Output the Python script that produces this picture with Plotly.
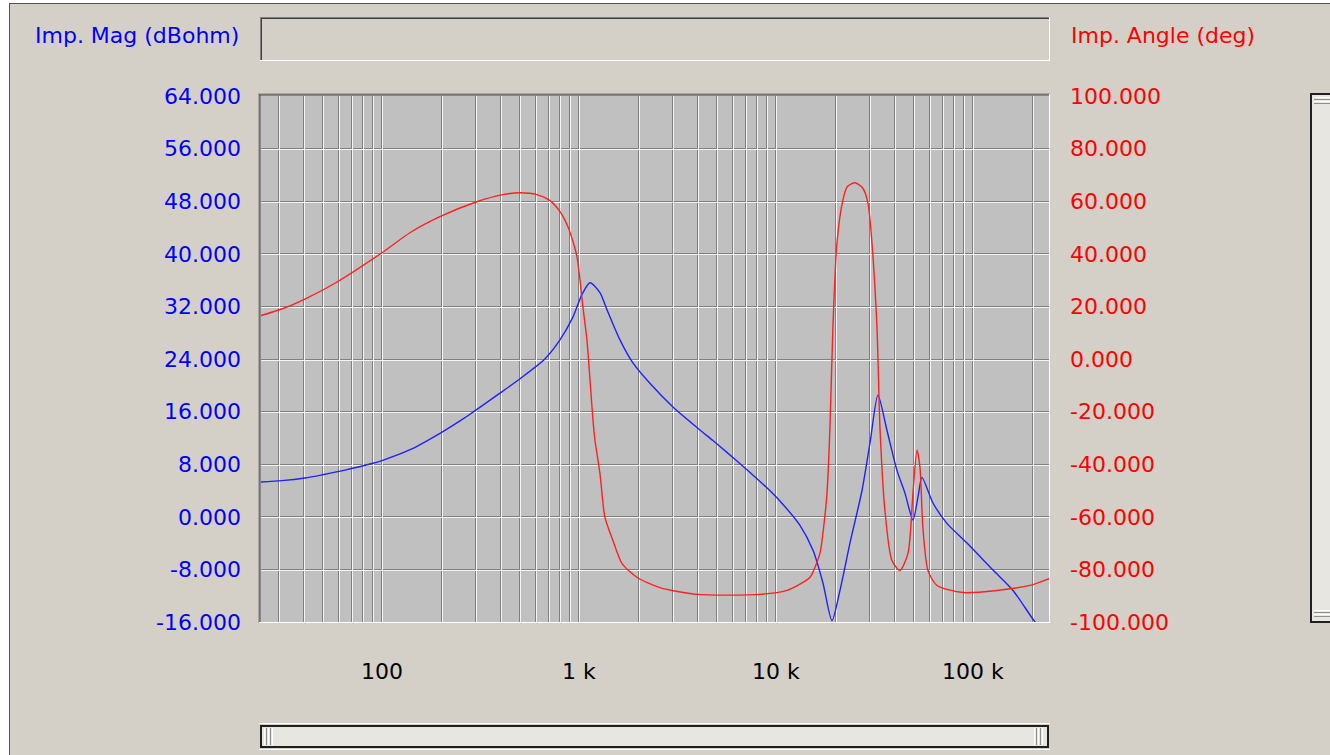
import plotly.graph_objects as go

# ---------------- data ----------------
freq_mag = [24.3, 31, 40.6, 50, 64.9, 89, 100, 139, 197, 249, 280, 397, 502, 671,
            801, 933, 1035, 1138, 1278, 1387, 1615, 1879, 2291, 3000, 4114, 4786,
            5637, 6796, 8012, 9000, 10470, 13240, 15420, 17330, 19240, 21130,
            23750, 27340, 30010, 32940, 36560, 41100, 45160, 49600, 52590, 55070,
            62660, 73790, 93270, 126400, 159700, 206400, 245000]
mag_db = [5.3, 5.5, 5.9, 6.4, 7.1, 8.1, 8.55, 10.2, 12.7, 14.6, 15.6, 18.8, 21.0, 24.0,
          26.9, 30.4, 33.8, 35.6, 34.1, 31.5, 26.9, 23.4, 20.3, 16.7, 13.2, 11.6,
          9.8, 7.7, 5.8, 4.4, 2.4, -1.3, -5.1, -10.1, -15.8, -11.2,
          -4.0, 4.0, 11.2, 18.5, 13.2, 7.1, 3.6, -0.5, 3.0, 6.0,
          2.1, -1.0, -4.0, -8.1, -11.2, -16.0, -18.6]

freq_ang = [24.3, 31.0, 40.6, 57.7, 100, 138.7, 196.8, 303, 411, 502, 612, 713,
            801, 879, 933, 977, 1012, 1047, 1098, 1138, 1178, 1206, 1278, 1355,
            1488, 1652, 1968, 2576, 3972, 8299, 11370, 13240, 14890, 16720, 17330,
            18160, 18800, 19460, 20400, 21890, 23000, 25170, 27500, 29300, 30710,
            32560, 33720, 35730, 38770, 42600, 46790, 49600, 51970, 53810, 55700,
            59100, 65670, 88970, 132500, 194500, 246000]
ang_deg = [16.5, 19.0, 22.8, 28.8, 40.4, 48.0, 54.1, 59.8, 62.5, 63.2, 62.5, 60.2,
           56.0, 50.3, 44.6, 38.9, 30.1, 19.8, 7.2, -8.0, -23.2, -30.9, -43.5, -60.2,
           -69.0, -77.7, -83.0, -86.9, -89.5, -89.5, -88.0, -85.6, -83.0, -73.9, -66.0,
           -51.0, -25.9, 12.2, 44.2, 60.6, 65.5, 67.0, 65.1, 59.4, 44.2,
           12.2, -25.9, -57.5, -76.6, -80.4, -73.9, -51.0, -34.7, -41.1, -64.0,
           -80.4, -86.1, -88.8, -88.0, -86.1, -83.4]

grid_freqs = ([m * 10 for m in range(3, 10)] + [m * 100 for m in range(1, 10)] +
              [m * 1000 for m in range(1, 10)] + [m * 10000 for m in range(1, 10)] +
              [100000, 200000])
x_labels = {100: "100", 1000: "1 k", 10000: "10 k", 100000: "100 k"}
mag_ticks = list(range(-16, 65, 8))
ang_ticks = list(range(-100, 101, 20))

mag_title = "Imp. Mag (dBohm)"
ang_title = "Imp. Angle (deg)"

# ---------------- layout geometry ----------------
W, H = 1330, 755
PL, PR, PT, PB = 261, 1049, 96, 622
XR = [1.386, 5.386]
YR = [-16, 64]
px_per_dec = (PR - PL) / (XR[1] - XR[0])
dlog = 1.0 / px_per_dec
dy = (YR[1] - YR[0]) / (PB - PT)

BG = "#D4D0C8"
FONT = "DejaVu Sans, Verdana, sans-serif"
FS = 22


def fx(p):
    return (p - PL) / (PR - PL)


def fy(p):
    return 1 - (p - PT) / (PB - PT)


shapes = []


def rect(x0, y0, x1, y1, fill=None, line=None, lw=0):
    shapes.append(dict(type="rect", xref="paper", yref="paper",
                       x0=fx(x0), x1=fx(x1), y0=fy(y1), y1=fy(y0),
                       fillcolor=fill if fill else "rgba(0,0,0,0)",
                       line=dict(color=line if line else "rgba(0,0,0,0)", width=lw),
                       layer="above"))


def hline(x0, x1, y, color, w=1):
    rect(x0, y - w / 2, x1, y + w / 2, fill=color)


def vline(x, y0, y1, color, w=1):
    rect(x - w / 2, y0, x + w / 2, y1, fill=color)


# outer white area + window frame
rect(-5, -5, W + 5, 3, fill="#FFFFFF")
rect(-5, -5, 9, H + 5, fill="#FFFFFF")
hline(9, W + 5, 3.5, "#555555")
vline(9.5, 3, H + 5, "#555555")

# top text box (sunken)
rect(260, 17, 1050, 61, fill=BG)
hline(260, 1050, 17.5, "#808080")
hline(261, 1049, 18.5, "#404040")
vline(260.5, 17, 61, "#808080")
vline(261.5, 18, 60, "#404040")
hline(260, 1050, 60.5, "#FFFFFF")
vline(1049.5, 17, 61, "#FFFFFF")

# plot sunken border
hline(258, 1050, 94, "#808080")
hline(259, 1049, 95, "#404040")
vline(259, 94, 623, "#808080")
vline(260, 95, 622, "#404040")
hline(259, 1050.5, 622.5, "#FFFFFF")
vline(1049.5, 94, 623, "#FFFFFF")

# bottom scrollbar
hline(259, 1050, 723.5, "#FFFFFF")
rect(260, 725, 1049, 748, fill="#E8E6E1")
rect(261, 726, 1048, 747, line="#202020", lw=2)
for i, x in enumerate([264.5, 266.5, 268.5, 270.5, 272.5]):
    vline(x, 728, 745, "#FFFFFF" if i % 2 == 0 else "#909090")
for i, x in enumerate([1034.5, 1036.5, 1038.5, 1040.5, 1042.5]):
    vline(x, 728, 745, "#FFFFFF" if i % 2 == 0 else "#909090")
hline(259, 1050, 749.5, "#FFFFFF")

# right scrollbar
rect(1310, 93, W + 5, 623, fill="#E8E6E1")
rect(1311, 94, W + 10, 622, line="#202020", lw=2)
for i, y in enumerate([97.5, 99.5, 101.5, 103.5]):
    hline(1314, W + 5, y, "#FFFFFF" if i % 2 == 0 else "#909090")
for i, y in enumerate([610.5, 612.5, 614.5, 616.5]):
    hline(1314, W + 5, y, "#FFFFFF" if i % 2 == 0 else "#909090")

# ---------------- traces ----------------
fig = go.Figure()
fig.add_trace(go.Scatter(x=freq_mag, y=mag_db, mode="lines",
                         line=dict(color="#2020FF", width=1.4, shape="spline", smoothing=0.7),
                         xaxis="x", yaxis="y", showlegend=False, hoverinfo="skip"))
fig.add_trace(go.Scatter(x=freq_ang, y=ang_deg, mode="lines",
                         line=dict(color="#FF2020", width=1.4, shape="spline", smoothing=0.7),
                         xaxis="x", yaxis="y2", showlegend=False, hoverinfo="skip"))
# empty trace carrying the white (embossed) grid axes
fig.add_trace(go.Scatter(x=[], y=[], mode="lines", xaxis="x2", yaxis="y3",
                         showlegend=False, hoverinfo="skip"))

fig.update_layout(
    width=W, height=H,
    margin=dict(l=PL, r=W - PR, t=PT, b=H - PB, pad=0),
    paper_bgcolor=BG, plot_bgcolor="#C0C0C0",
    showlegend=False,
    xaxis=dict(type="log", range=XR, tickmode="array", tickvals=grid_freqs,
               ticktext=[x_labels.get(v, "") for v in grid_freqs],
               showgrid=True, gridcolor="#808080", gridwidth=1,
               ticks="", showline=False, zeroline=False, ticklabelstandoff=34,
               tickfont=dict(family=FONT, size=FS, color="#000000")),
    xaxis2=dict(type="log", range=[XR[0] - dlog, XR[1] - dlog], overlaying="x",
                tickmode="array", tickvals=grid_freqs, showticklabels=False,
                showgrid=True, gridcolor="#F4F4F4", gridwidth=1, ticks="",
                showline=False, zeroline=False),
    yaxis=dict(range=YR, tickmode="array", tickvals=mag_ticks,
               ticktext=[f"{v:.3f}" for v in mag_ticks],
               showgrid=True, gridcolor="#808080", gridwidth=1,
               ticks="", showline=False, zeroline=False, ticklabelstandoff=19,
               tickfont=dict(family=FONT, size=FS, color="#0000FF")),
    yaxis2=dict(range=[-100, 100], overlaying="y", side="right", tickmode="array",
                tickvals=ang_ticks, ticktext=[f"{v:.3f}" for v in ang_ticks],
                showgrid=False, ticks="", showline=False, zeroline=False,
                ticklabelstandoff=20,
                tickfont=dict(family=FONT, size=FS, color="#FF0000")),
    yaxis3=dict(range=[YR[0] + dy, YR[1] + dy], overlaying="y", tickmode="array",
                tickvals=mag_ticks, showticklabels=False, showgrid=True,
                gridcolor="#F4F4F4", gridwidth=1, ticks="", showline=False,
                zeroline=False),
    shapes=shapes,
    annotations=[
        dict(text=mag_title, xref="paper", yref="paper", x=fx(241), y=fy(36),
             xanchor="right", yanchor="middle", showarrow=False,
             font=dict(family=FONT, size=FS, color="#0000FF")),
        dict(text=ang_title, xref="paper", yref="paper", x=fx(1069), y=fy(36),
             xanchor="left", yanchor="middle", showarrow=False,
             font=dict(family=FONT, size=FS, color="#FF0000")),
    ],
)

fig.write_html("out.html", config={"displayModeBar": False},
               post_script="document.body.style.margin='0';document.body.style.overflow='hidden';")
